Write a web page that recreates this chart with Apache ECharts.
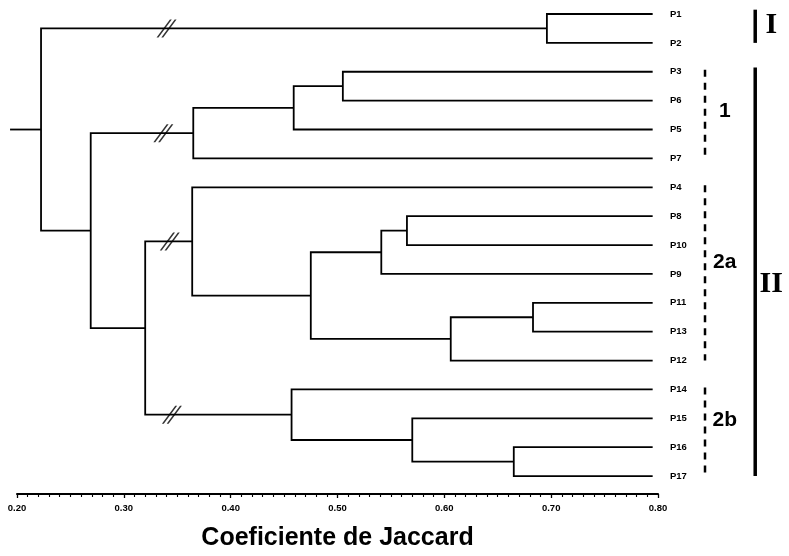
<!DOCTYPE html>
<html>
<head>
<meta charset="utf-8">
<script src="https://cdn.jsdelivr.net/npm/echarts@6/dist/echarts.min.js"></script>
<style>html,body{margin:0;padding:0;background:#fff;}#c{width:789px;height:556px;}</style>
</head>
<body>
<div id="c"></div>
<script>
// ---------------- data ----------------
const leaves = ['P1','P2','P3','P6','P5','P7','P4','P8','P10','P9','P11','P13','P12','P14','P15','P16','P17'];
// merges n1..n16 (Jaccard similarity at which the two children join)
const mergeA = ['P1','P3','n2','n3','P8','n5','P11','n7','n6','P4','P16','P15','P14','n10','n4','n1'];
const mergeB = ['P2','P6','P5','P7','P10','P9','P13','P12','n8','n9','P17','n11','n12','n13','n14','n15'];
const mergeHeight = [0.696,0.505,0.459,0.365,0.565,0.541,0.683,0.606,0.475,0.364,0.665,0.570,0.457,0.320,0.269,0.2225];
const leafValue = 0.795;
const rootValue = 0.1935;
// broken branches (//)
const breakNodes = ['n1','n4','n10','n13'];
const breakValues = [0.340,0.337,0.343,0.345];
// groups
const mainGroups = ['I','II'];
const mainFrom = [0,2];
const mainTo = [1,16];
const subGroups = ['1','2a','2b'];
const subFrom = [2,6,13];
const subTo = [5,12,16];
const tickLabels = ['0.20','0.30','0.40','0.50','0.60','0.70','0.80'];
const axisTitle = 'Coeficiente de Jaccard';

// ---------------- build ----------------
const pos = {};
leaves.forEach((n,i)=>{ pos[n] = {x: leafValue, y: i}; });
const elbows = [];
mergeHeight.forEach((h,i)=>{
  const a = pos[mergeA[i]], b = pos[mergeB[i]];
  const name = 'n' + (i+1);
  pos[name] = {x: h, y: (a.y + b.y)/2};
  elbows.push({coords: [[a.x, a.y],[h, a.y],[h, b.y],[b.x, b.y]]});
});
const root = pos['n' + mergeHeight.length];
elbows.push({coords: [[rootValue, root.y],[root.x, root.y]]});

const breaks = breakNodes.map((n,i)=>[breakValues[i], pos[n].y]);

// annotation placement (styling)
const subX = 0.844, subLabelX = 0.8625, mainX = 0.891, mainLabelX = 0.906;
const subShift = [-0.15, -0.4, -0.45];
const mainShift = [-0.1, 0.35];
const subLines = subGroups.map((g,i)=>({coords: [[subX, subFrom[i]-0.07],[subX, subTo[i]]]}));
const mainLines = mainGroups.map((g,i)=>({coords: [[mainX, mainFrom[i]-0.15],[mainX, mainTo[i]]]}));
const groupLabels = [];
subGroups.forEach((g,i)=>groupLabels.push([subLabelX, (subFrom[i]+subTo[i])/2 + subShift[i], g, 0]));
mainGroups.forEach((g,i)=>groupLabels.push([mainLabelX, (mainFrom[i]+mainTo[i])/2 + mainShift[i], g, 1]));

const chart = echarts.init(document.getElementById('c'), null, {renderer:'canvas'});
const option = {
  animation: false,
  backgroundColor: '#fff',
  grid: {left: 17, right: 131, top: 14, bottom: 61},
  xAxis: {
    type: 'value', min: 0.2, max: 0.8, interval: 0.1, position: 'bottom',
    axisLine: {onZero: false, lineStyle: {color: '#000', width: 2}},
    axisTick: {length: 4, lineStyle: {color: '#000', width: 1.3}},
    minorTick: {show: true, splitNumber: 10, length: 3, lineStyle: {color: '#000', width: 1.1}},
    splitLine: {show: false},
    axisLabel: {color: '#000', fontWeight: 'bold', fontSize: 9.5, margin: 9,
      fontFamily: '"Liberation Sans Narrow", "Liberation Sans", Arial, sans-serif',
      formatter: v => tickLabels[Math.round((v - 0.2) * 10)] || ''},
    name: axisTitle, nameLocation: 'middle', nameGap: 32,
    nameTextStyle: {fontSize: 25, fontWeight: 'bold', color: '#000', fontFamily: '"Liberation Sans", Arial, sans-serif'}
  },
  yAxis: {
    type: 'value', inverse: true, min: 0, max: 16.62, interval: 1, position: 'right',
    axisLine: {show: false}, axisTick: {show: false}, splitLine: {show: false},
    axisLabel: {showMaxLabel: false, margin: 12, color: '#000', fontWeight: 'bold', fontSize: 9.5,
      fontFamily: '"Liberation Sans", Arial, sans-serif',
      formatter: v => (Number.isInteger(v) && leaves[v]) ? leaves[v] : ''}
  },
  series: [
    {type: 'lines', coordinateSystem: 'cartesian2d', polyline: true, clip: false, silent: true,
     lineStyle: {color: '#000', width: 1.8, opacity: 1}, data: elbows},
    {type: 'scatter', clip: false, silent: true, z: 5,
     symbol: 'path://M0,18 L2,18 L16,0 L14,0 Z M5,18 L7,18 L21,0 L19,0 Z',
     symbolSize: [20, 18], itemStyle: {color: '#000'}, data: breaks},
    {type: 'lines', coordinateSystem: 'cartesian2d', polyline: true, clip: false, silent: true,
     lineStyle: {color: '#000', width: 2.5, type: [7, 6], opacity: 1}, data: subLines},
    {type: 'lines', coordinateSystem: 'cartesian2d', polyline: true, clip: false, silent: true,
     lineStyle: {color: '#000', width: 3.5, opacity: 1}, data: mainLines},
    {type: 'custom', clip: false, silent: true, z: 10,
     renderItem: (params, api) => {
       const p = api.coord([api.value(0), api.value(1)]);
       const d = groupLabels[params.dataIndex];
       const serif = d[3] === 1;
       return {type: 'text', x: p[0], y: p[1], silent: true,
         style: {text: d[2], fill: '#000', opacity: 1, align: 'center', verticalAlign: 'middle',
           font: serif ? 'bold 30px "Liberation Serif", "Times New Roman", serif'
                       : 'bold 21px "Liberation Sans", Arial, sans-serif'}};
     },
     data: groupLabels}
  ]
};
chart.setOption(option);
</script>
</body>
</html>
